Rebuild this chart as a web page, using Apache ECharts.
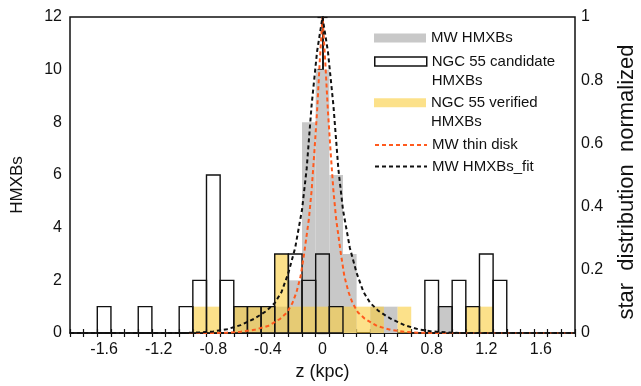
<!DOCTYPE html>
<html>
<head>
<meta charset="utf-8">
<script src="https://cdn.jsdelivr.net/npm/echarts@6/dist/echarts.min.js"></script>
<style>
html,body{margin:0;padding:0;background:#fff;}
#chart{width:641px;height:386px;}
</style>
</head>
<body>
<div id="chart"></div>
<script>
// ---- data ----
const BIN = 0.1; // histogram bin width (kpc)
const mwHMXBs = [[-0.6,1],[-0.5,1],[-0.4,1],[-0.3,1],[-0.2,2],[-0.1,8],[0,10],[0.1,6],[0.2,3],[0.4,1],[0.5,1],[0.9,1]];
const candidate = [[-1.6,1],[-1.3,1],[-1.0,1],[-0.9,2],[-0.8,6],[-0.7,2],[-0.6,1],[-0.5,1],[-0.4,1],[-0.3,3],[-0.2,3],[-0.1,2],[0,3],[0.1,1],[0.8,2],[0.9,1],[1.0,2],[1.1,1],[1.2,3],[1.3,2]];
const verified = [[-0.9,1],[-0.8,1],[-0.6,1],[-0.5,1],[-0.4,1],[-0.3,3],[-0.2,1],[-0.1,1],[0,1],[0.1,1],[0.2,1],[0.3,1],[0.4,1],[0.6,1],[1.1,1],[1.2,1]];
const thinDisk = [[-1.85,0],[-0.8,0],[-0.7,0.001],[-0.6,0.004],[-0.5,0.01],[-0.4,0.022],[-0.31,0.045],[-0.26,0.065],[-0.22,0.095],[-0.19,0.13],[-0.16,0.18],[-0.135,0.25],[-0.1,0.36],[-0.08,0.45],[-0.06,0.57],[-0.04,0.70],[-0.02,0.86],[0,1.0],[0.02,0.86],[0.04,0.70],[0.06,0.57],[0.08,0.45],[0.1,0.36],[0.135,0.25],[0.16,0.18],[0.19,0.13],[0.22,0.095],[0.26,0.065],[0.31,0.045],[0.4,0.022],[0.5,0.01],[0.6,0.004],[0.7,0.001],[0.8,0],[1.85,0]];
const hmxbFit = [[-1.85,0],[-1.0,0],[-0.9,0.002],[-0.8,0.005],[-0.7,0.012],[-0.6,0.025],[-0.5,0.045],[-0.41,0.07],[-0.35,0.095],[-0.3,0.13],[-0.25,0.19],[-0.2,0.27],[-0.15,0.39],[-0.116,0.52],[-0.08,0.72],[-0.04,0.89],[0,1.0],[0.04,0.89],[0.08,0.72],[0.116,0.52],[0.15,0.39],[0.2,0.27],[0.25,0.19],[0.3,0.13],[0.35,0.095],[0.41,0.07],[0.5,0.045],[0.6,0.025],[0.7,0.012],[0.8,0.005],[0.9,0.002],[1.0,0],[1.85,0]];
const xTickValues = [-1.85,-1.75,-1.65,-1.55,-1.45,-1.35,-1.25,-1.15,-1.05,-0.95,-0.85,-0.75,-0.65,-0.55,-0.45,-0.35,-0.25,-0.15,-0.05,0.05,0.15,0.25,0.35,0.45,0.55,0.65,0.75,0.85,0.95,1.05,1.15,1.25,1.35,1.45,1.55,1.65,1.75,1.85];
const xLabelValues = [-1.6,-1.2,-0.8,-0.4,0,0.4,0.8,1.2,1.6];
const X_MIN = -1.85, X_MAX = 1.85;

const FONT = 'Liberation Sans';
const TXT = '#111';
const GRAY = '#c8c8c8';
const YELLOW = 'rgba(250,205,60,0.6)';
const RED = '#ff5a1e';

function histRender(fill, stroke, lw) {
  return function (params, api) {
    const z = api.value(0), v = api.value(1);
    const p0 = api.coord([z - BIN / 2, v]);
    const p1 = api.coord([z + BIN / 2, 0]);
    return {
      type: 'rect',
      shape: {x: p0[0], y: p0[1], width: p1[0] - p0[0], height: p1[1] - p0[1]},
      style: {fill: fill, stroke: stroke, lineWidth: lw}
    };
  };
}

const chart = echarts.init(document.getElementById('chart'), null, {renderer: 'canvas'});
const baseText = {fontFamily: FONT, fontSize: 16, color: TXT};

function legendBox(top, item, extra) {
  return Object.assign({
    orient: 'vertical', left: 374, top: top, padding: 0,
    itemWidth: 52, itemHeight: 9, selectedMode: false,
    textStyle: {fontFamily: FONT, fontSize: 15, color: TXT, lineHeight: 19},
    data: [item]
  }, extra || {});
}
const twoLine = {formatter: n => '\u00a0\n' + n};

chart.setOption({
  animation: false,
  backgroundColor: '#fff',
  grid: {left: 70, right: 66, top: 17, bottom: 53, outerBoundsMode: 'none', containLabel: false, show: true, borderColor: '#111', borderWidth: 1.5, backgroundColor: 'transparent'},
  legend: [
    legendBox(28.5, {name: 'MW HMXBs', icon: 'rect', itemStyle: {color: GRAY, borderWidth: 0}}),
    legendBox(33, {name: 'NGC 55 candidate\nHMXBs', icon: 'rect', itemStyle: {color: '#fff', borderColor: '#111', borderWidth: 1.5}}, twoLine),
    legendBox(74.3, {name: 'NGC 55 verified\nHMXBs', icon: 'rect', itemStyle: {color: YELLOW, borderWidth: 0}}, twoLine),
    legendBox(135.5, {name: 'MW thin disk', itemStyle: {opacity: 0}}),
    legendBox(157, {name: 'MW HMXBs_fit', itemStyle: {opacity: 0}})
  ],
  xAxis: [
    {
      type: 'value', min: X_MIN, max: X_MAX, position: 'bottom',
      name: 'z (kpc)', nameLocation: 'middle', nameGap: 28,
      nameTextStyle: {fontFamily: FONT, fontSize: 18, color: TXT},
      axisLine: {show: true, lineStyle: {color: '#111', width: 1.5}},
      axisTick: {show: true, length: 4, inside: false, customValues: xTickValues, lineStyle: {color: '#111', width: 1.2}},
      axisLabel: Object.assign({margin: 9, customValues: xLabelValues, formatter: v => String(v)}, baseText),
      splitLine: {show: false}
    },
    {
      type: 'value', min: X_MIN, max: X_MAX, position: 'bottom',
      axisLine: {show: false},
      axisTick: {show: true, length: 4, inside: true, customValues: xTickValues, lineStyle: {color: '#111', width: 1.2}},
      axisLabel: {show: false},
      splitLine: {show: false}
    }
  ],
  yAxis: [
    {
      type: 'value', min: 0, max: 12, interval: 2, position: 'left',
      name: 'HMXBs', nameLocation: 'middle', nameGap: 44, nameRotate: 90,
      nameTextStyle: {fontFamily: FONT, fontSize: 17, color: TXT, padding: [0, 20, 0, 0]},
      axisLine: {show: true, lineStyle: {color: '#111', width: 1.5}},
      axisTick: {show: true, length: 5, lineStyle: {color: '#111', width: 1.2}},
      axisLabel: Object.assign({margin: 8}, baseText),
      splitLine: {show: false}
    },
    {
      type: 'value', min: 0, max: 1, interval: 0.2, position: 'right',
      name: 'star  distribution  normalized', nameLocation: 'middle', nameGap: 41, nameRotate: 90,
      nameTextStyle: {fontFamily: FONT, fontSize: 22, color: TXT, padding: [0, 14, 0, 0]},
      axisLine: {show: true, lineStyle: {color: '#111', width: 1.5}},
      axisTick: {show: true, length: 5, lineStyle: {color: '#111', width: 1.2}},
      axisLabel: Object.assign({margin: 6}, baseText),
      splitLine: {show: false}
    }
  ],
  series: [
    {
      name: 'MW HMXBs', type: 'custom', xAxisIndex: 0, yAxisIndex: 0,
      renderItem: histRender(GRAY, null, 0), encode: {x: 0, y: 1},
      itemStyle: {color: GRAY}, data: mwHMXBs, z: 2
    },
    {
      name: 'NGC 55 verified\nHMXBs', type: 'custom', xAxisIndex: 0, yAxisIndex: 0,
      renderItem: histRender(YELLOW, null, 0), encode: {x: 0, y: 1},
      itemStyle: {color: YELLOW}, data: verified, z: 3
    },
    {
      name: 'NGC 55 candidate\nHMXBs', type: 'custom', xAxisIndex: 0, yAxisIndex: 0,
      renderItem: histRender('rgba(0,0,0,0)', '#111', 1.4), encode: {x: 0, y: 1},
      itemStyle: {color: '#fff', borderColor: '#111'}, data: candidate, z: 4
    },
    {
      name: 'MW thin disk', type: 'line', xAxisIndex: 0, yAxisIndex: 1,
      data: thinDisk, symbol: 'none', showSymbol: false, z: 5,
      lineStyle: {color: RED, width: 2, type: [4, 3]}, itemStyle: {color: RED}
    },
    {
      name: 'MW HMXBs_fit', type: 'line', xAxisIndex: 0, yAxisIndex: 1,
      data: hmxbFit, symbol: 'none', showSymbol: false, z: 6,
      lineStyle: {color: '#111', width: 2, type: [4, 3]}, itemStyle: {color: '#111'}
    }
  ]
});
</script>
</body>
</html>
